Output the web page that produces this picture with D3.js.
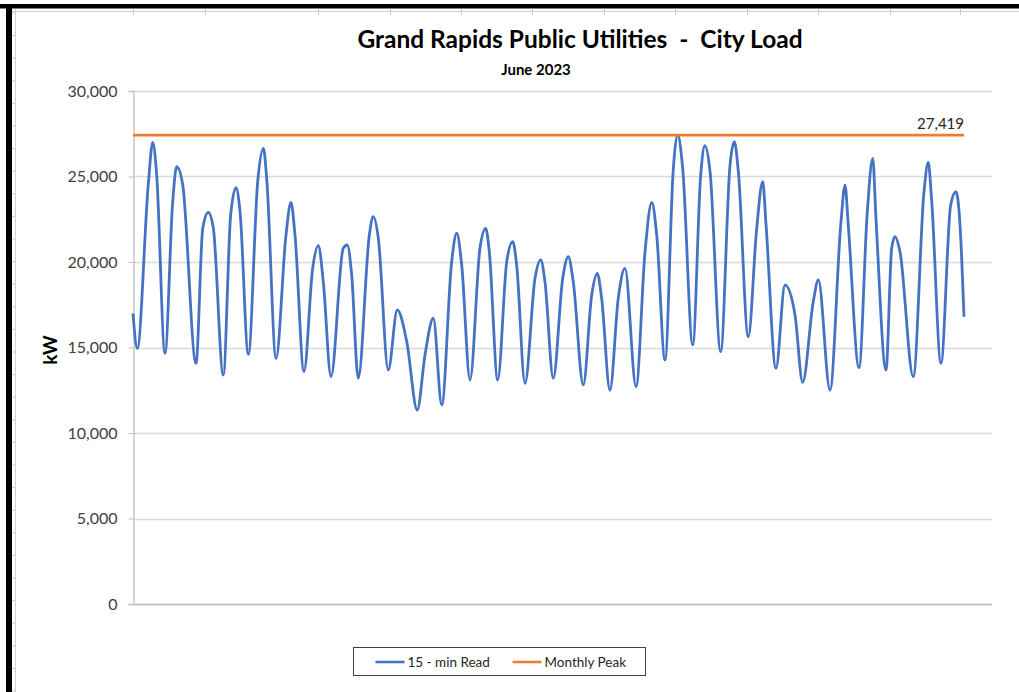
<!DOCTYPE html>
<html>
<head>
<meta charset="utf-8">
<script src="https://cdn.jsdelivr.net/npm/d3@7"></script>
<style>
  body { margin: 0; background: #fff; }
  svg { display: block; }
</style>
</head>
<body>
<div id="chart"></div>
<script>
// 15-min reads, key points (hours since June 1 00:00, kW)
const readHours = [
  0, 3.7, 13.3, 17.1, 20.5,
  27.7, 34.4, 37.8, 43.1,
  54.6, 60.4, 65.2, 69.6,
  78.2, 84.6, 89.2, 92.7,
  99.9, 108.0, 112.9, 115.8,
  123.9, 132.5, 136.8, 140.3,
  148.1, 155.6, 160.5, 164.8,
  171.5, 182.1, 185.6, 189.4,
  195.1, 204.7, 208.1, 212.5,
  221.1, 228.9, 237.1,
  246.2, 252.9, 260.1,
  267.4, 276.0, 280.4, 284.7,
  291.9, 300.5, 305.5, 308.6,
  315.9, 323.7, 328.9, 332.3,
  339.5, 348.2, 353.1, 356.8,
  364.0, 372.2, 377.0, 381.3,
  390.0, 397.3, 402.1, 405.9,
  413.1, 420.3, 426.1,
  435.7, 443.5, 449.3, 453.6,
  460.8, 468.0, 471.8, 476.1,
  484.8, 491.7, 495.4, 499.8,
  509.0, 517.1, 520.8, 524.3,
  532.9, 540.2, 545.4, 548.3,
  556.9, 564.7, 573.4,
  580.0, 589.2, 593.6,
  603.7, 613.0, 616.7, 619.5,
  628.8, 636.0, 640.7, 643.5,
  652.2, 657.1, 660.0, 664.3,
  675.8, 685.1, 688.8, 691.8,
  699.8, 708.2, 712.8, 716.3, 719.75];
const readKw = [
  17000, 14950, 24600, 27000, 25090,
  14660, 23530, 25575, 24500,
  14075, 21970, 22905, 21970,
  13390, 22750, 24350, 22945,
  14600, 24700, 26650, 24895,
  14370, 21580, 23490, 21580,
  13590, 19630, 20955, 18850,
  13300, 20800, 20995, 19240,
  13200, 21580, 22650, 21385,
  13685, 17195, 15340,
  11345, 14560, 16710,
  11640, 20020, 21680, 19825,
  13100, 20800, 21970, 20600,
  13100, 20020, 21190, 19825,
  12905, 19045, 20120, 18850,
  13200, 19045, 20315, 18850,
  12810, 18070, 19340, 17880,
  12515, 17880, 19630,
  12710, 20600, 23490, 21580,
  14270, 25480, 27419, 25480,
  15150, 25090, 26800, 25285,
  14755, 25675, 27035, 25285,
  15630, 21970, 24700, 22165,
  13780, 18655, 16900,
  12965, 17680, 18950,
  12515, 22165, 24500, 22165,
  13820, 22945, 26065, 22555,
  13685, 20800, 21480, 20600,
  13295, 24110, 25830, 23530,
  14075, 23335, 24110, 22165, 16800];
const monthlyPeak = 27419;
const peakHours = [0, 719.75];
const monthHours = 744; // category axis spans 31 days
const yTicks = [0, 5000, 10000, 15000, 20000, 25000, 30000];
const titleText = "Grand Rapids Public Utilities  -  City Load";
const subtitleText = "June 2023";
const yLabel = "kW";
const legendItems = ["15 - min Read", "Monthly Peak"];
const colors = ["#4472C4", "#ED7D31"];

const W = 1019, H = 692;
const margin = {left: 133, right: 27, top: 91, bottom: 88};
const width = W - margin.left - margin.right;
const height = H - margin.top - margin.bottom;

const svg = d3.select("#chart").append("svg")
  .attr("width", W).attr("height", H)
  .style("font-family", "Lato, 'Open Sans', sans-serif");

// spreadsheet frame behind the chart
svg.append("rect").attr("x", 0).attr("y", 0).attr("width", W).attr("height", H).attr("fill", "#fff");
svg.append("line").attr("x1", 12).attr("x2", W).attr("y1", 11.5).attr("y2", 11.5).attr("stroke", "#d0d0d0");
svg.append("line").attr("x1", 15.5).attr("x2", 15.5).attr("y1", 9).attr("y2", H).attr("stroke", "#d0d0d0");
svg.selectAll(".colSep").data([133, 205, 318, 390, 461, 532, 604, 675, 747, 818, 890, 960])
  .enter().append("line")
  .attr("x1", d => d + 0.5).attr("x2", d => d + 0.5).attr("y1", 9).attr("y2", 15)
  .attr("stroke", "#c8c8c8");
svg.selectAll(".rowSep").data(d3.range(13, H, 22.6))
  .enter().append("line")
  .attr("x1", 12).attr("x2", 15).attr("y1", d => d).attr("y2", d => d)
  .attr("stroke", "#c8c8c8");
svg.append("rect").attr("x", 0).attr("y", 4).attr("width", W).attr("height", 4.5).attr("fill", "#000");
svg.append("rect").attr("x", 6).attr("y", 4).attr("width", 6).attr("height", H).attr("fill", "#000");

const g = svg.append("g").attr("transform", `translate(${margin.left},${margin.top})`);

const xScale = d3.scaleLinear().domain([0, monthHours]).range([0, width]);
const yScale = d3.scaleLinear().domain([0, 30000]).range([height, 0]);

// gridlines
g.selectAll(".grid").data(yTicks)
  .enter().append("line")
  .attr("class", "grid")
  .attr("x1", 0).attr("x2", width)
  .attr("y1", d => Math.round(yScale(d)) + 0.5)
  .attr("y2", d => Math.round(yScale(d)) + 0.5)
  .attr("stroke", "#d9d9d9").attr("stroke-width", 1.3);

// y axis
const yAxis = d3.axisLeft(yScale).tickValues(yTicks).tickSize(5).tickPadding(11)
  .tickFormat(d3.format(","));
const yAxisG = g.append("g").attr("transform", "translate(0.5,0)").call(yAxis);
yAxisG.select(".domain").attr("stroke", "#bfbfbf").attr("stroke-width", 1.3);
yAxisG.selectAll(".tick line").attr("stroke", "#bfbfbf");
yAxisG.selectAll(".tick text").attr("font-size", "16px").attr("fill", "#404040")
  .attr("font-family", "Lato, sans-serif");

// x axis line (no labels)
g.append("line").attr("x1", 0).attr("x2", width)
  .attr("y1", Math.round(yScale(0)) + 0.5).attr("y2", Math.round(yScale(0)) + 0.5)
  .attr("stroke", "#bfbfbf").attr("stroke-width", 1.3);

// 15-min read series
const line = d3.line()
  .x((d, i) => xScale(readHours[i]))
  .y(d => yScale(d))
  .curve(d3.curveMonotoneX);
g.append("path")
  .datum(readKw)
  .attr("fill", "none")
  .attr("stroke", colors[0])
  .attr("stroke-width", 2.8)
  .attr("stroke-linejoin", "round")
  .attr("d", line);

// monthly peak line
g.append("line")
  .attr("x1", xScale(peakHours[0])).attr("x2", xScale(peakHours[1]))
  .attr("y1", yScale(monthlyPeak)).attr("y2", yScale(monthlyPeak))
  .attr("stroke", colors[1]).attr("stroke-width", 2.6);
g.append("text")
  .attr("x", xScale(peakHours[1]))
  .attr("y", yScale(monthlyPeak) - 6)
  .attr("text-anchor", "end")
  .attr("font-size", "15px").attr("fill", "#262626")
  .text(d3.format(",")(monthlyPeak));

// titles
svg.append("text").attr("x", 580).attr("y", 48)
  .attr("text-anchor", "middle").attr("font-weight", "bold")
  .attr("font-size", "24.5px").attr("fill", "#000")
  .style("white-space", "pre")
  .text(titleText);
svg.append("text").attr("x", 536).attr("y", 75)
  .attr("text-anchor", "middle").attr("font-weight", "bold")
  .attr("font-size", "15px").attr("fill", "#000")
  .text(subtitleText);
svg.append("text")
  .attr("transform", "translate(57,350) rotate(-90)")
  .attr("text-anchor", "middle").attr("font-weight", "bold")
  .attr("font-size", "19px").attr("fill", "#000")
  .text(yLabel);

// legend
const legend = svg.append("g").attr("transform", "translate(353.5,647.5)");
legend.append("rect").attr("width", 292).attr("height", 28)
  .attr("fill", "#fff").attr("stroke", "#404040").attr("stroke-width", 1);
const legendX = [22, 159];
legendItems.forEach((name, i) => {
  legend.append("line")
    .attr("x1", legendX[i]).attr("x2", legendX[i] + 29)
    .attr("y1", 14.5).attr("y2", 14.5)
    .attr("stroke", colors[i]).attr("stroke-width", 2.6);
  legend.append("text")
    .attr("x", legendX[i] + 32).attr("y", 19)
    .attr("font-size", "13.5px").attr("fill", "#262626")
    .text(name);
});
</script>
</body>
</html>
